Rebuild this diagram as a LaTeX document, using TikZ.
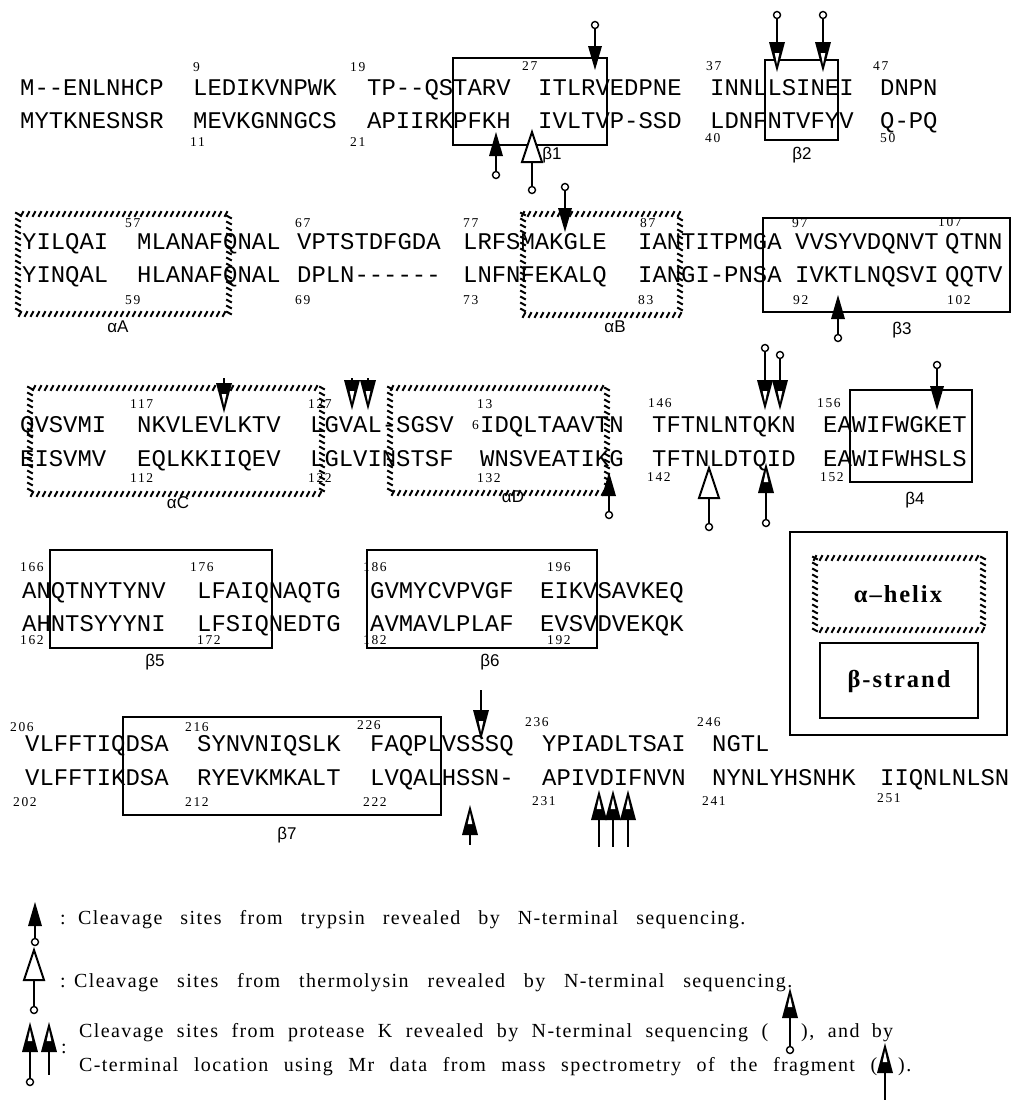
\documentclass[tikz,border=0pt]{standalone}
\usepackage{fontspec}
\setmainfont{Liberation Serif}
\newfontfamily\seqfont{Liberation Mono}
\newfontfamily\labfont{Liberation Sans}
\newfontfamily\numfont{Liberation Serif}[LetterSpace=12]
\newfontfamily\legfont{Liberation Serif}[LetterSpace=7]
\newfontfamily\keyfont{Liberation Serif}[LetterSpace=8]
\usetikzlibrary{decorations.markings}

\tikzset{
  seq/.style={font=\seqfont\fontsize{23.9}{26}\selectfont, inner sep=0pt, anchor=base west},
  resnum/.style={font=\numfont\fontsize{13.5}{14}\selectfont, inner sep=0pt, anchor=west},
  sslabel/.style={font=\labfont\fontsize{17}{18}\selectfont, inner sep=0pt},
  legtext/.style={font=\legfont\fontsize{20}{22}\selectfont, inner sep=0pt, anchor=base west},
  keytext/.style={font=\keyfont\bfseries\fontsize{24.5}{26}\selectfont, inner sep=0pt},
  strandbox/.style={draw, line width=1.8pt},
  helixbox/.style={postaction={decorate},
    decoration={markings, mark=between positions 0 and 1 step 6pt with
      {\draw[line width=2pt] (-1.5pt,-2.8pt) -- (1.5pt,2.8pt);}}},
  stem/.style={line width=2pt},
  tailring/.style={draw, fill=white, line width=1.4pt},
}

% tip at (#1,#2), tail #3 further on, #4 = 1 points up, -1 points down
\newcommand{\trypsinmark}[4]{%
  \begin{scope}[shift={(#1,#2)}, yscale=#4]
    \fill (0,0) -- (-7,24) -- (7,24) -- cycle;
    \draw[stem] (0,23) -- (0,#3);
    \draw[tailring] (0,#3) circle (3.5);
  \end{scope}}
\newcommand{\thermomark}[4]{%
  \begin{scope}[shift={(#1,#2)}, yscale=#4]
    \draw[stem] (0,30) -- (0,#3);
    \draw[stem, fill=white] (0,0) -- (-10,30) -- (10,30) -- cycle;
    \draw[tailring] (0,#3) circle (3.5);
  \end{scope}}
% #5 = 1 with ring (N-terminal), 0 without (C-terminal)
\newcommand{\proteasemark}[5]{%
  \begin{scope}[shift={(#1,#2)}, yscale=#4]
    \fill (0,0) -- (-8,30) -- (8,30) -- cycle;
    \fill[white] (0,8) -- (-2.3,19) -- (2.3,19) -- cycle;
    \draw[stem] (0,29) -- (0,#3);
    \ifnum#5=1 \draw[tailring] (0,#3) circle (3.5);\fi
  \end{scope}}

\begin{document}
\begin{tikzpicture}[x=1pt,y=-1pt]
\path[use as bounding box, fill=white] (0,0) rectangle (1014,1100);

% ROW 1
\foreach \x/\s [count=\i] in {20/M--ENLNHCP,193/LEDIKVNPWK,367/TP--QSTARV,538/ITLRVEDPNE,710/INNLLSINEI,880/DNPN}
  \node[seq] (r1t\i) at (\x,95) {\s};
\foreach \x/\s [count=\i] in {20/MYTKNESNSR,193/MEVKGNNGCS,367/APIIRKPFKH,538/IVLTVP-SSD,710/LDNFNTVFYV,880/Q-PQ}
  \node[seq] (r1b\i) at (\x,128) {\s};
\draw[strandbox] (453,58) rectangle (607,145);
\draw[strandbox] (765,60) rectangle (838,140);
\node[sslabel] (b1) at (552,155) {β1};
\node[sslabel] (b2) at (802,155) {β2};
\trypsinmark{595}{70}{45}{-1}
\proteasemark{777}{72}{57}{-1}{1}
\proteasemark{823}{72}{57}{-1}{1}
\trypsinmark{496}{132}{43}{1}
\thermomark{532}{132}{58}{1}

% ROW 2
\foreach \x/\s [count=\i] in {22/YILQAI,137/MLANAFQNAL,297/VPTSTDFGDA,463/LRFSMAKGLE,638/IANTITPMGA,795/VVSYVDQNVT,945/QTNN}
  \node[seq] (r2t\i) at (\x,249) {\s};
\foreach \x/\s [count=\i] in {22/YINQAL,137/HLANAFQNAL,297/DPLN------,463/LNFNFEKALQ,638/IANGI-PNSA,795/IVKTLNQSVI,945/QQTV}
  \node[seq] (r2b\i) at (\x,282) {\s};
\path[helixbox] (18,214) rectangle (229,314);
\path[helixbox] (523,214) rectangle (680,315);
\draw[strandbox] (763,218) rectangle (1010,312);
\node[sslabel] (aA) at (118,327) {αA};
\node[sslabel] (aB) at (615,327) {αB};
\node[sslabel] (b3) at (902,330) {β3};
\trypsinmark{565}{232}{45}{-1}
\trypsinmark{838}{295}{43}{1}

% ROW 3
\foreach \x/\s [count=\i] in {20/QVSVMI,137/NKVLEVLKTV,310/LGVAL-SGSV,480/IDQLTAAVTN,652/TFTNLNTQKN,823/EAWIFWGKET}
  \node[seq] (r3t\i) at (\x,432) {\s};
\foreach \x/\s [count=\i] in {20/EISVMV,137/EQLKKIIQEV,310/LGLVINSTSF,480/WNSVEATIKG,652/TFTNLDTQID,823/EAWIFWHSLS}
  \node[seq] (r3b\i) at (\x,466) {\s};
\path[helixbox] (30,388) rectangle (322,494);
\path[helixbox] (390,388) rectangle (607,493);
\draw[strandbox] (850,390) rectangle (972,482);
\node[sslabel] (aC) at (178,503) {αC};
\node[sslabel] (aD) at (513,497) {αD};
\node[sslabel] (b4) at (915,500) {β4};
\proteasemark{224}{413}{35}{-1}{0}
\proteasemark{352}{410}{32}{-1}{0}
\proteasemark{368}{410}{32}{-1}{0}
\proteasemark{765}{410}{62}{-1}{1}
\proteasemark{780}{410}{55}{-1}{1}
\trypsinmark{937}{410}{45}{-1}
\trypsinmark{609}{472}{43}{1}
\thermomark{709}{468}{59}{1}
\proteasemark{766}{463}{60}{1}{1}

% ROW 4
\foreach \x/\s [count=\i] in {22/ANQTNYTYNV,197/LFAIQNAQTG,370/GVMYCVPVGF,540/EIKVSAVKEQ}
  \node[seq] (r4t\i) at (\x,598) {\s};
\foreach \x/\s [count=\i] in {22/AHNTSYYYNI,197/LFSIQNEDTG,370/AVMAVLPLAF,540/EVSVDVEKQK}
  \node[seq] (r4b\i) at (\x,631) {\s};
\draw[strandbox] (50,550) rectangle (272,648);
\draw[strandbox] (367,550) rectangle (597,648);
\node[sslabel] (b5) at (155,662) {β5};
\node[sslabel] (b6) at (490,662) {β6};

% ROW 5
\foreach \x/\s [count=\i] in {25/VLFFTIQDSA,197/SYNVNIQSLK,370/FAQPLVSSSQ,542/YPIADLTSAI,712/NGTL}
  \node[seq] (r5t\i) at (\x,751) {\s};
\foreach \x/\s [count=\i] in {25/VLFFTIKDSA,197/RYEVKMKALT,370/LVQALHSSN-,542/APIVDIFNVN,712/NYNLYHSNHK,880/IIQNLNLSN}
  \node[seq] (r5b\i) at (\x,785) {\s};
\draw[strandbox] (123,717) rectangle (441,815);
\node[sslabel] (b7) at (287,835) {β7};
\proteasemark{481}{740}{50}{-1}{0}
\proteasemark{470}{805}{40}{1}{0}
\foreach \x in {599,613,628}
  \proteasemark{\x}{790}{57}{1}{0};

% residue numbers
\foreach \x/\y/\n in {193/67/9,350/67/19,522/66/27,706/66/37,873/66/47,190/142/11,350/142/21,705/138/40,880/138/50,
  125/223/57,295/223/67,463/223/77,640/223/87,792/223/97,938/222/107,125/300/59,295/300/69,463/300/73,638/300/83,793/300/92,947/300/102,
  130/404/117,308/404/127,477/404/13,472/425/6,648/403/146,817/403/156,130/478/112,308/478/122,477/478/132,647/477/142,820/477/152,
  20/567/166,190/567/176,363/567/186,547/567/196,20/640/162,197/640/172,363/640/182,547/640/192,
  10/727/206,185/727/216,357/725/226,525/722/236,697/722/246,13/802/202,185/802/212,363/802/222,532/801/231,702/801/241,877/798/251}
  \node[resnum] (n\n) at (\x,\y) {\n};

% KEY BOX
\draw[line width=1.2pt] (790,532) rectangle (1007,735);
\path[helixbox] (815,558) rectangle (983,630);
\draw[strandbox] (820,643) rectangle (978,718);
\node[keytext] (khelix) at (898,594) {α–helix};
\node[keytext] (kstrand) at (899,681) {β-strand};

% LEGEND
\trypsinmark{35}{902}{40}{1}
\node[legtext] (c1) at (60,924) {:};
\node[legtext] (leg1) at (78,924) {\makebox[667pt][s]{Cleavage sites from trypsin revealed by N-terminal sequencing.}};
\thermomark{34}{950}{60}{1}
\node[legtext] (c2) at (60,987) {:};
\node[legtext] (leg2) at (74,987) {\makebox[718pt][s]{Cleavage sites from thermolysin revealed by N-terminal sequencing.}};
\proteasemark{30}{1022}{60}{1}{1}
\proteasemark{49}{1022}{53}{1}{0}
\node[legtext] (c3) at (61,1053) {:};
\node[legtext] (leg3) at (79,1037) {\makebox[689pt][s]{Cleavage sites from protease K revealed by N-terminal sequencing (}};
\proteasemark{790}{988}{62}{1}{1}
\node[legtext] (leg3b) at (801,1037) {\makebox[92pt][s]{), and by}};
\node[legtext] (leg4) at (79,1071) {\makebox[798pt][s]{C-terminal location using Mr data from mass spectrometry of the fragment (}};
\proteasemark{885}{1043}{57}{1}{0}
\node[legtext] (leg4b) at (898,1071) {).};
\end{tikzpicture}
\end{document}
